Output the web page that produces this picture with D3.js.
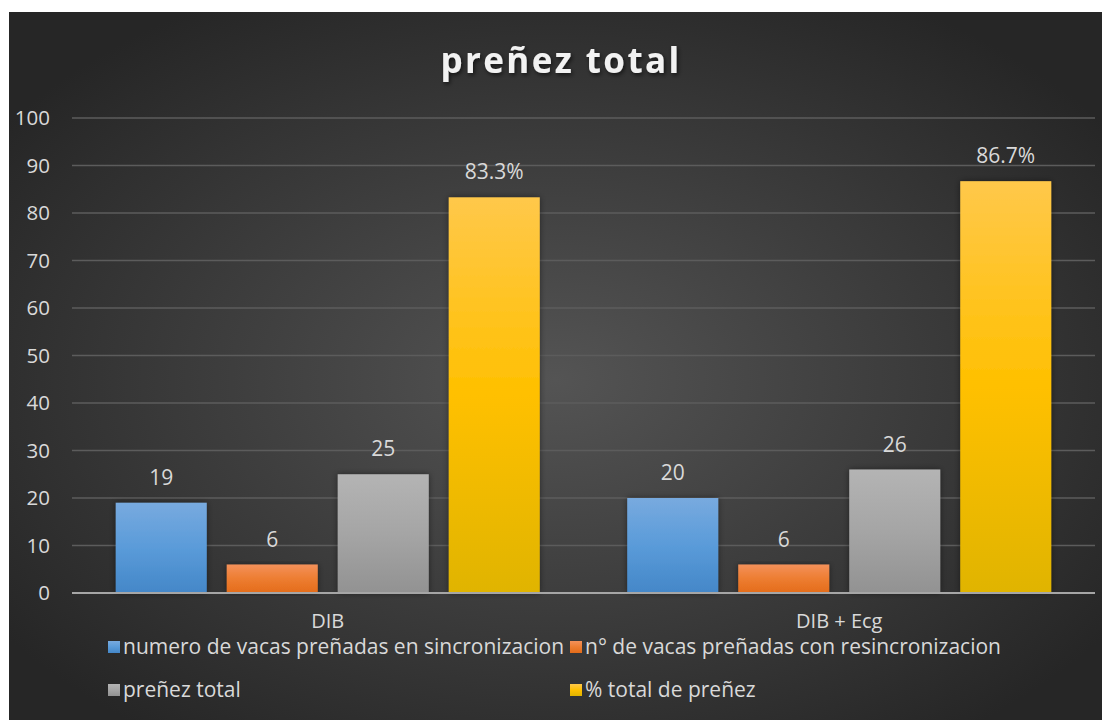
<!DOCTYPE html>
<html>
<head>
<meta charset="utf-8">
<script src="https://cdn.jsdelivr.net/npm/d3@7"></script>
<style>
  body { margin: 0; background: #ffffff; }
  svg text { font-family: "Open Sans", "Noto Sans", sans-serif; }
</style>
</head>
<body>
<div id="grafico"></div>
<script>
// datos
var categorias = ["DIB", "DIB + Ecg"];
var series = ["numero de vacas preñadas en sincronizacion", "n° de vacas preñadas con resincronizacion", "preñez total", "% total de preñez"];
var valoresDIB = [19, 6, 25, 83.3];
var valoresEcg = [20, 6, 26, 86.7];
var esPorcentaje = [false, false, false, true];
var ticksY = [0, 10, 20, 30, 40, 50, 60, 70, 80, 90, 100];

// colores de cada serie: arriba, medio, abajo
var colores = [
  ["#78aadf", "#5a9bd9", "#4487c8"],
  ["#f4915a", "#ed7d31", "#e46c1a"],
  ["#b4b4b4", "#a5a5a5", "#929292"],
  ["#ffc84a", "#ffc000", "#e0b400"]
];

var W = 1102, H = 720;
var svg = d3.select("#grafico").append("svg").attr("width", W).attr("height", H);
var defs = svg.append("defs");

// fondo con degradado radial
var rg = defs.append("radialGradient").attr("id", "fondo")
  .attr("cx", "50%").attr("cy", "52%").attr("r", "62%");
rg.append("stop").attr("offset", "0%").attr("stop-color", "#545454");
rg.append("stop").attr("offset", "100%").attr("stop-color", "#262626");

for (var i = 0; i < colores.length; i++) {
  var lg = defs.append("linearGradient").attr("id", "barra" + i)
    .attr("x1", 0).attr("y1", 0).attr("x2", 0).attr("y2", 1);
  lg.append("stop").attr("offset", "0%").attr("stop-color", colores[i][0]);
  lg.append("stop").attr("offset", "50%").attr("stop-color", colores[i][1]);
  lg.append("stop").attr("offset", "100%").attr("stop-color", colores[i][2]);
}

var sombra = defs.append("filter").attr("id", "sombra")
  .attr("x", "-20%").attr("y", "-20%").attr("width", "140%").attr("height", "140%");
sombra.append("feDropShadow").attr("dx", 1.5).attr("dy", 2).attr("stdDeviation", 2)
  .attr("flood-color", "#000").attr("flood-opacity", 0.6);

var sombraBarra = defs.append("filter").attr("id", "sombraBarra")
  .attr("x", "-20%").attr("y", "-10%").attr("width", "140%").attr("height", "120%");
sombraBarra.append("feDropShadow").attr("dx", 0).attr("dy", 0).attr("stdDeviation", 3)
  .attr("flood-color", "#000").attr("flood-opacity", 0.45);

svg.append("rect").attr("x", 9).attr("y", 12).attr("width", W - 9).attr("height", H - 12)
  .attr("fill", "url(#fondo)");

// titulo
svg.append("text")
  .attr("x", 561).attr("y", 73)
  .attr("text-anchor", "middle")
  .attr("font-size", 35).attr("font-weight", "bold")
  .attr("letter-spacing", 2.4)
  .attr("fill", "#f2f2f2")
  .attr("filter", "url(#sombra)")
  .text("preñez total");

var izq = 72, der = 1095, arriba = 118, abajo = 593;

var y = d3.scaleLinear().domain([0, 100]).range([abajo, arriba]);
var x0 = d3.scaleBand().domain(categorias).range([izq, der]).paddingInner(0).paddingOuter(0);
var margenGrupo = x0.bandwidth() * 0.0855;
var x1 = d3.scaleBand().domain(d3.range(series.length))
  .range([margenGrupo, x0.bandwidth() - margenGrupo]).paddingInner(0.18).paddingOuter(0);

// lineas de la cuadricula
svg.append("g")
  .selectAll("line")
  .data(ticksY.filter(function(d) { return d > 0; }))
  .enter().append("line")
  .attr("x1", izq).attr("x2", der)
  .attr("y1", function(d) { return y(d); })
  .attr("y2", function(d) { return y(d); })
  .attr("stroke", "#5c5c5c").attr("stroke-width", 1.3);

// eje y
var ejeY = svg.append("g").attr("transform", "translate(" + (izq - 20) + ",0)")
  .call(d3.axisLeft(y).tickValues(ticksY).tickSize(0).tickPadding(2));
ejeY.select(".domain").remove();
ejeY.selectAll("text").attr("font-size", 20.5).attr("fill", "#d9d9d9")
  .attr("font-family", "\"Open Sans\", sans-serif");

var datos = [valoresDIB, valoresEcg];

var grupos = svg.selectAll("g.grupo")
  .data(categorias)
  .enter().append("g")
  .attr("class", "grupo")
  .attr("transform", function(d) { return "translate(" + x0(d) + ",0)"; });

grupos.selectAll("rect")
  .data(function(d, i) { return datos[i].map(function(v, k) { return { k: k, v: v }; }); })
  .enter().append("rect")
  .attr("x", function(d) { return x1(d.k); })
  .attr("y", function(d) { return y(d.v); })
  .attr("width", x1.bandwidth())
  .attr("height", function(d) { return y(0) - y(d.v); })
  .attr("fill", function(d) { return "url(#barra" + d.k + ")"; })
  .attr("filter", "url(#sombraBarra)");

grupos.selectAll("text.etiqueta")
  .data(function(d, i) { return datos[i].map(function(v, k) { return { k: k, v: v }; }); })
  .enter().append("text")
  .attr("class", "etiqueta")
  .attr("x", function(d) { return x1(d.k) + x1.bandwidth() / 2; })
  .attr("y", function(d) { return y(d.v) - 18; })
  .attr("text-anchor", "middle")
  .attr("font-size", 21)
  .attr("fill", "#d9d9d9")
  .text(function(d) { return esPorcentaje[d.k] ? d3.format(".1f")(d.v) + "%" : d.v; });

// linea base
svg.append("line").attr("x1", izq).attr("x2", der)
  .attr("y1", y(0)).attr("y2", y(0))
  .attr("stroke", "#a6a6a6").attr("stroke-width", 2.2);

// eje x
var ejeX = svg.append("g").attr("transform", "translate(0," + abajo + ")")
  .call(d3.axisBottom(x0).tickSize(0).tickPadding(21));
ejeX.select(".domain").remove();
ejeX.selectAll("text").attr("font-size", 20).attr("fill", "#d9d9d9")
  .attr("font-family", "\"Open Sans\", sans-serif");

// leyenda
var posLeyenda = [[108, 647], [570, 647], [108, 690], [570, 690]];
var leyenda = svg.selectAll("g.leyenda")
  .data(series)
  .enter().append("g")
  .attr("class", "leyenda")
  .attr("transform", function(d, i) { return "translate(" + posLeyenda[i][0] + "," + posLeyenda[i][1] + ")"; });
leyenda.append("rect")
  .attr("x", 0).attr("y", -6).attr("width", 12).attr("height", 12)
  .attr("fill", function(d, i) { return "url(#barra" + i + ")"; });
leyenda.append("text")
  .attr("x", 15).attr("y", 0).attr("dy", "0.35em")
  .attr("font-size", 21).attr("fill", "#d9d9d9")
  .text(function(d) { return d; });
</script>
</body>
</html>
